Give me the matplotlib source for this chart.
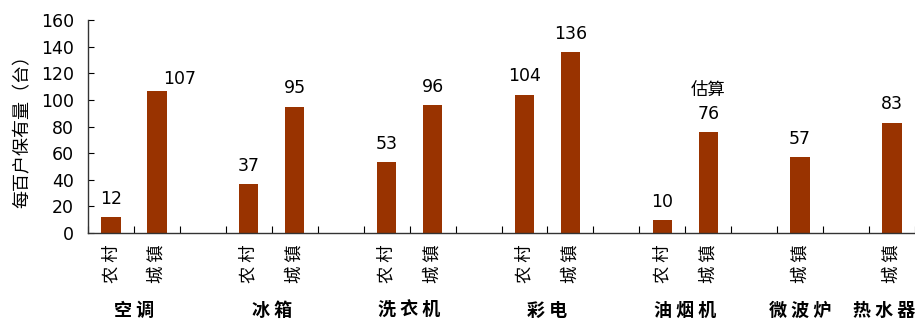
import matplotlib
matplotlib.use('Agg')
import matplotlib.pyplot as plt
from matplotlib.transforms import blended_transform_factory

plt.rcParams['font.family'] = ['Noto Sans CJK SC', 'DejaVu Sans']

# 每百户耐用品保有量：农村 / 城镇
groups = ['空调', '冰箱', '洗衣机', '彩电', '油烟机', '微波炉', '热水器']
rural = [12, 37, 53, 104, 10, None, None]
urban = [107, 95, 96, 136, 76, 57, 83]
yticks = [0, 20, 40, 60, 80, 100, 120, 140, 160]
bar_color = '#993300'

# 每组：农村(若有)、城镇，组间空一格
pos, vals, names, centers = [], [], [], []
x = 0
for i, g in enumerate(groups):
    start = x
    if rural[i] is not None:
        pos.append(x); vals.append(rural[i]); names.append('农 村')
        x += 1
    pos.append(x); vals.append(urban[i]); names.append('城 镇')
    centers.append((start + x) / 2)
    x += 2
n_slots = x - 1

fig = plt.figure(figsize=(9.15, 3.2), dpi=100)
ax = fig.add_axes([88 / 915, 87 / 320, 1 - 88 / 915, 213 / 320])

ax.bar(pos, vals, width=0.42, color=bar_color, zorder=2)

ax.set_xlim(-0.5, n_slots - 0.5)
ax.set_ylim(0, 160)
ax.set_yticks(yticks)
ax.tick_params(axis='y', direction='in', length=4, labelsize=12.5, pad=10)
for t in ax.get_yticklabels():
    t.set_fontfamily('DejaVu Sans')

# 主刻度在格子边界，次刻度放农村/城镇
ax.set_xticks([p - 0.5 for p in range(n_slots + 1)])
ax.set_xticklabels([])
ax.tick_params(axis='x', which='major', direction='in', length=5)
ax.set_xticks(pos, minor=True)
ax.set_xticklabels(names, minor=True, rotation=90, fontsize=12.5, va='top')
ax.tick_params(axis='x', which='minor', length=0, pad=8)

for s in ['top', 'right']:
    ax.spines[s].set_visible(False)
for s in ['left', 'bottom']:
    ax.spines[s].set_color('#333333')
    ax.spines[s].set_linewidth(1)

ax.set_ylabel('每百户保有量（台）', fontsize=13, labelpad=7)

# 数值标签
for p, v in zip(pos, vals):
    if v == 107:
        ax.annotate(str(v), (p, v), xytext=(16, 8), textcoords='offset points',
                    ha='center', va='center', fontsize=12.5, family='DejaVu Sans')
    else:
        ax.annotate(str(v), (p, v), xytext=(0, 13), textcoords='offset points',
                    ha='center', va='center', fontsize=12.5, family='DejaVu Sans')

# 油烟机城镇为估算值
i_est = pos[vals.index(76)]
ax.annotate('估算', (i_est, 76), xytext=(0, 30), textcoords='offset points',
            ha='center', va='center', fontsize=12.5)

# 组名，最后一组贴右边
trans = blended_transform_factory(ax.transData, fig.transFigure)
for k, (c, g) in enumerate(zip(centers, groups)):
    label = ' '.join(g)
    if k == len(groups) - 1:
        ax.text(n_slots - 0.5, 1 - 310 / 320, label, transform=trans,
                ha='right', va='center', fontsize=13, fontweight='bold')
    else:
        ax.text(c, 1 - 310 / 320, label, transform=trans,
                ha='center', va='center', fontsize=13, fontweight='bold')

plt.savefig('out.png', dpi=100)
